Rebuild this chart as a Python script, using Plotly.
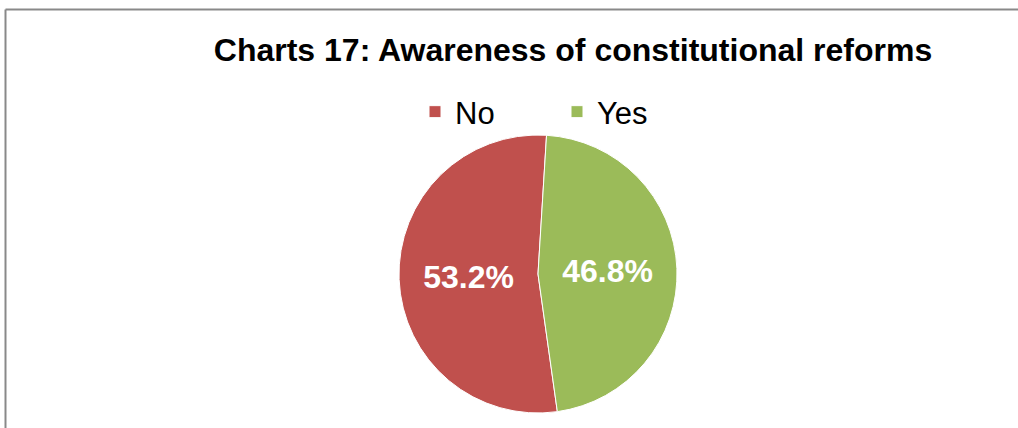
import plotly.graph_objects as go

labels = ["No", "Yes"]
values = [53.2, 46.8]
colors = ["#C0504D", "#9BBB59"]
title_text = "Charts 17: Awareness of constitutional reforms"

W, H = 1018, 428
cx, cy, r = 538, 274, 139

fig = go.Figure(go.Pie(
    labels=labels,
    values=values,
    sort=False,
    direction="clockwise",
    rotation=172,
    marker=dict(colors=colors, line=dict(color="white", width=1)),
    textinfo="percent",
    texttemplate="%{value:.1f}%",
    textposition="inside",
    insidetextorientation="horizontal",
    textfont=dict(family="Liberation Sans", size=32, color="white", weight="bold"),
    hoverinfo="label+percent",
    domain=dict(x=[(cx - r) / W, (cx + r) / W], y=[(H - cy - r) / H, (H - cy + r) / H]),
))

fig.update_layout(
    width=W, height=H,
    margin=dict(l=0, r=0, t=0, b=0),
    paper_bgcolor="white",
    plot_bgcolor="white",
    font=dict(family="Liberation Sans", color="black"),
    title=dict(
        text="<b>" + title_text + "</b>",
        x=573 / W, xanchor="center",
        y=1 - 50 / H, yanchor="middle",
        font=dict(family="Liberation Sans", size=32, color="black"),
    ),
    showlegend=True,
    legend=dict(
        orientation="h",
        x=415 / W, xanchor="left",
        y=1 - 112 / H, yanchor="middle",
        font=dict(family="Liberation Sans", size=31, color="black"),
        itemwidth=30,
        entrywidth=97,
        entrywidthmode="pixels",
        bgcolor="rgba(0,0,0,0)",
    ),
    shapes=[
        dict(type="line", xref="paper", yref="paper",
             x0=5.5 / W, x1=5.5 / W, y0=0, y1=1 - 9.5 / H,
             line=dict(color="#898989", width=2)),
        dict(type="line", xref="paper", yref="paper",
             x0=5.5 / W, x1=1, y0=1 - 9.5 / H, y1=1 - 9.5 / H,
             line=dict(color="#898989", width=2)),
    ],
)

fig.write_html("out.html")
